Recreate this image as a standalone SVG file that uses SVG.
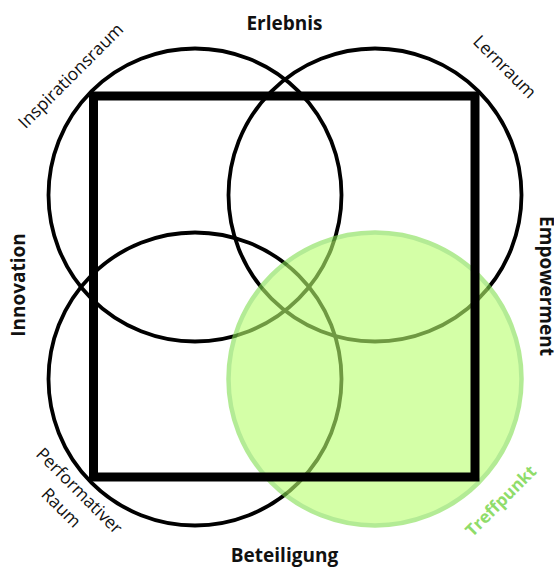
<svg xmlns="http://www.w3.org/2000/svg" width="554" height="567" viewBox="0 0 554 567">
<style>
.c{fill:none;stroke:#000;stroke-width:3.8}
.t{font-family:"Open Sans","Noto Sans",sans-serif;fill:#111}
.b{font-weight:700;font-size:19px}
.r{font-weight:400;font-size:17.5px}
</style>
<rect width="554" height="567" fill="#fff"/>
<g id="inspirationsraum"><circle class="c" cx="195" cy="195" r="146.5"/></g>
<g id="lernraum"><circle class="c" cx="375" cy="195" r="146.5"/></g>
<g id="performativer-raum"><circle class="c" cx="195" cy="379" r="146.5"/></g>
<g id="treffpunkt"><circle cx="375" cy="379" r="146.5" fill="#b9ff6e" stroke="#82de50" stroke-width="4.5" opacity="0.6"/></g>
<g id="frame"><rect x="93.5" y="96" width="381.5" height="381" fill="none" stroke="#000" stroke-width="9"/></g>
<g id="connectors"></g>
<g id="labels">
<text class="t b" x="284.5" y="30" text-anchor="middle">Erlebnis</text>
<text class="t b" x="284.5" y="561.5" text-anchor="middle">Beteiligung</text>
<text class="t b" text-anchor="middle" transform="translate(25,285) rotate(-90)">Innovation</text>
<text class="t b" text-anchor="middle" transform="translate(539.5,286) rotate(90)">Empowerment</text>
<text class="t r" text-anchor="middle" transform="translate(75,80) rotate(-45)">Inspirationsraum</text>
<text class="t r" text-anchor="middle" transform="translate(500.5,71) rotate(45)">Lernraum</text>
<text class="t r" text-anchor="middle" transform="translate(75,495) rotate(45)">Performativer</text>
<text class="t r" text-anchor="middle" transform="translate(57,512) rotate(45)">Raum</text>
<text class="t b" text-anchor="middle" style="font-size:17px;fill:#8fdc6a" transform="translate(505,505) rotate(-45)">Treffpunkt</text>
</g>
</svg>
